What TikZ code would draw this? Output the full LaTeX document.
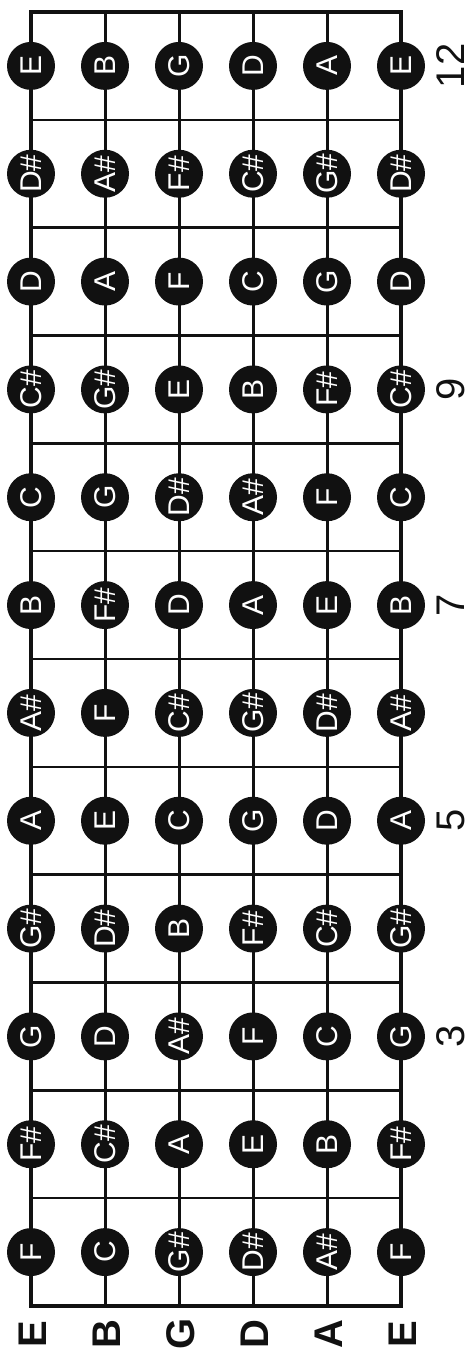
\documentclass[tikz,border=0pt]{standalone}
\usepackage{fontspec}
\setmainfont{Liberation Sans}
\definecolor{ink}{HTML}{111111}
\begin{document}
\begin{tikzpicture}[x=1pt,y=-1pt,
  note/.style={circle,fill=ink,minimum size=48pt,inner sep=0pt,text=white,
    rotate=90,font=\fontsize{30}{30}\selectfont,text height=21.5pt,text depth=0pt},
  fretnum/.style={rotate=90,inner sep=0pt,text=ink,font=\fontsize{40}{40}\selectfont,
    text height=28.6pt,text depth=0pt},
  strlabel/.style={rotate=90,inner sep=0pt,text=ink,font=\bfseries\fontsize{40}{40}\selectfont,
    text height=28.6pt,text depth=0pt},
  stringline/.style={draw=ink,line width=3pt},
  fretline/.style={draw=ink,line width=2.6pt},
  border/.style={draw=ink,line width=3.6pt}]
\useasboundingbox (0,0) rectangle (470,1350);
\fill[white] (0,0) rectangle (470,1350);
% corners
\coordinate (tl) at (31,12);
\coordinate (br) at (401,1306);
% strings
\foreach \s [count=\i from 0] in {1,...,6}{
  \coordinate (s\s-top) at ({31+74*\i},12);
  \coordinate (s\s-bot) at ({31+74*\i},1306);
  \path[stringline] (s\s-top) -- (s\s-bot);
}
% frets
\foreach \k in {1,...,11}{
  \coordinate (f\k-l) at (31,{12+107.833*\k});
  \coordinate (f\k-r) at (401,{12+107.833*\k});
  \path[fretline] (f\k-l) -- (f\k-r);
}
\path[border] (tl) rectangle (br);
% notes
\foreach \f/\a/\b/\c/\d/\e/\g in {
  1/F/C/G\#/D\#/A\#/F,
  2/F\#/C\#/A/E/B/F\#,
  3/G/D/A\#/F/C/G,
  4/G\#/D\#/B/F\#/C\#/G\#,
  5/A/E/C/G/D/A,
  6/A\#/F/C\#/G\#/D\#/A\#,
  7/B/F\#/D/A/E/B,
  8/C/G/D\#/A\#/F/C,
  9/C\#/G\#/E/B/F\#/C\#,
  10/D/A/F/C/G/D,
  11/D\#/A\#/F\#/C\#/G\#/D\#,
  12/E/B/G/D/A/E}{
  \pgfmathsetmacro\yy{12+107.833*(12-\f)+53.9}
  \node[note] (n\f-1) at (31,\yy) {\a};
  \node[note] (n\f-2) at (105,\yy) {\b};
  \node[note] (n\f-3) at (179,\yy) {\c};
  \node[note] (n\f-4) at (253,\yy) {\d};
  \node[note] (n\f-5) at (327,\yy) {\e};
  \node[note] (n\f-6) at (401,\yy) {\g};
}
% fret numbers
\foreach \f in {3,5,7,9,12}{
  \pgfmathsetmacro\yy{12+107.833*(12-\f)+53.9}
  \node[fretnum] (fn\f) at (450,\yy) {\f};
}
% string labels
\foreach \n [count=\i from 0] in {E,B,G,D,A,E}{
  \node[strlabel] (sl\i) at ({32+74*\i},1334) {\n};
}
\end{tikzpicture}
\end{document}
